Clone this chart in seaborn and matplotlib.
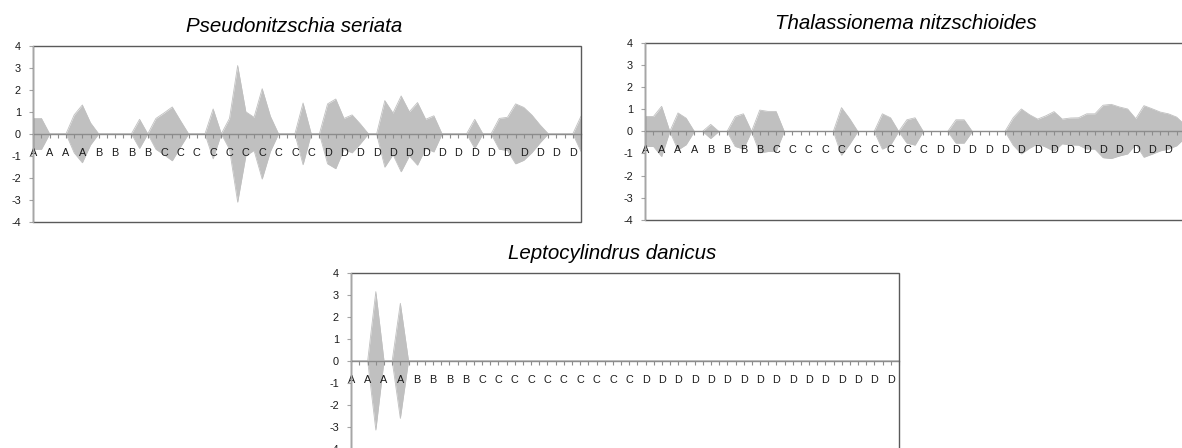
import numpy as np
import pandas as pd
import matplotlib
matplotlib.use("Agg")
import matplotlib.pyplot as plt
import seaborn as sns
from matplotlib.patches import Rectangle

# Sampling stations along the transect (one entry per sample)
stations = ["A"] * 8 + ["B"] * 8 + ["C"] * 20 + ["D"] * 32

# Log-abundance per sample; plotted symmetrically (kite diagram)
pseudonitzschia = [
    0.70, 0.70, 0.00, 0.00, 0.00, 0.86, 1.31, 0.50, 0.00, 0.00,
    0.00, 0.00, 0.00, 0.66, 0.00, 0.70, 0.95, 1.22, 0.60, 0.00,
    0.00, 0.00, 1.13, 0.00, 0.70, 3.10, 1.00, 0.75, 2.05, 0.80,
    0.00, 0.00, 0.00, 1.40, 0.00, 0.00, 1.36, 1.58, 0.70, 0.86,
    0.45, 0.00, 0.00, 1.51, 0.94, 1.72, 1.00, 1.42, 0.66, 0.82,
    0.00, 0.00, 0.00, 0.00, 0.66, 0.00, 0.00, 0.70, 0.75, 1.36,
    1.20, 0.85, 0.40, 0.00, 0.00, 0.00, 0.00, 0.80,
]
thalassionema = [
    0.68, 0.68, 1.14, 0.00, 0.84, 0.60, 0.00, 0.00, 0.32, 0.00,
    0.00, 0.68, 0.80, 0.00, 0.97, 0.91, 0.91, 0.00, 0.00, 0.00,
    0.00, 0.00, 0.00, 0.00, 1.08, 0.58, 0.00, 0.00, 0.00, 0.80,
    0.62, 0.00, 0.53, 0.62, 0.00, 0.00, 0.00, 0.00, 0.53, 0.53,
    0.00, 0.00, 0.00, 0.00, 0.00, 0.62, 1.02, 0.76, 0.56, 0.71,
    0.90, 0.56, 0.61, 0.62, 0.80, 0.80, 1.19, 1.23, 1.11, 1.02,
    0.58, 1.17, 1.03, 0.88, 0.80, 0.65, 0.30, 0.00,
]
leptocylindrus = [0.0] * 68
leptocylindrus[3] = 3.14
leptocylindrus[6] = 2.61

titles = ["Pseudonitzschia seriata", "Thalassionema nitzschioides",
          "Leptocylindrus danicus"]

sns.set_theme(style="white")
plt.rcParams["font.family"] = ["Liberation Sans", "DejaVu Sans"]
plt.rcParams["axes.unicode_minus"] = False

W, H = 1182, 448
fig = plt.figure(figsize=(W / 100, H / 100), dpi=100)
fig.patch.set_facecolor("white")


def px_rect(left, top, width, height):
    return [left / W, 1 - (top + height) / H, width / W, height / H]


rects = [
    px_rect(33.3, 45.7, 547.7, 176.3),
    px_rect(645.3, 43.3, 547.7, 176.3),
    px_rect(351.3, 272.7, 547.7, 176.3),
]

fill_color = "#c0c0c0"
pos = np.arange(len(stations))
tick_labels = [s if i % 2 == 0 else "" for i, s in enumerate(stations)]

for title, values, rect in zip(titles, [pseudonitzschia, thalassionema, leptocylindrus], rects):
    ax = fig.add_axes(rect)
    ax.set_axisbelow(False)
    df = pd.DataFrame({"pos": pos, "upper": np.array(values), "lower": -np.array(values)})
    ax.fill_between(df["pos"], df["lower"], df["upper"], color=fill_color, lw=0, zorder=1)
    sns.lineplot(data=df, x="pos", y="upper", ax=ax, color=fill_color, lw=0.6, zorder=1)
    sns.lineplot(data=df, x="pos", y="lower", ax=ax, color=fill_color, lw=0.6, zorder=1)

    ax.set_xlim(0, len(stations) - 1)
    ax.set_ylim(-4, 4)
    ax.set_xlabel("")
    ax.set_ylabel("")

    ax.set_xticks(pos)
    ax.set_xticklabels(tick_labels)
    ax.set_yticks(range(-4, 5))

    # category axis sits on the zero line
    for side in ["top", "right"]:
        ax.spines[side].set_visible(False)
    ax.spines["bottom"].set_position(("data", 0))
    ax.spines["bottom"].set_color("#8c8c8c")
    ax.spines["bottom"].set_linewidth(1.0)
    ax.spines["left"].set_color("#a6a6a6")
    ax.spines["left"].set_linewidth(1.0)
    ax.spines["left"].set_zorder(4)

    ax.add_patch(Rectangle((0, 0), 1, 1, transform=ax.transAxes, fill=False,
                           edgecolor="#5a5a5a", lw=1.0, clip_on=False, zorder=3))

    ax.tick_params(axis="x", which="major", bottom=True, direction="out", length=3,
                   width=0.8, color="#8c8c8c", labelsize=7.8, pad=7, labelcolor="#1a1a1a")
    ax.tick_params(axis="y", which="major", left=True, direction="out", length=3,
                   width=0.8, color="#a6a6a6", labelsize=7.8, pad=6, labelcolor="#1a1a1a")

    # station labels that would fall past the right edge of the figure are not shown
    x_px = ax.transData.transform(np.column_stack([pos, np.zeros_like(pos)]))[:, 0]
    for lbl, xp in zip(ax.get_xticklabels(), x_px):
        if xp > W - 4:
            lbl.set_visible(False)

    ax.text(0.476, 1 + 14 / 176.3, title, transform=ax.transAxes, ha="center",
            va="baseline", fontsize=14.8, style="italic", color="black")

fig.savefig("out.png", dpi=100, facecolor="white")
